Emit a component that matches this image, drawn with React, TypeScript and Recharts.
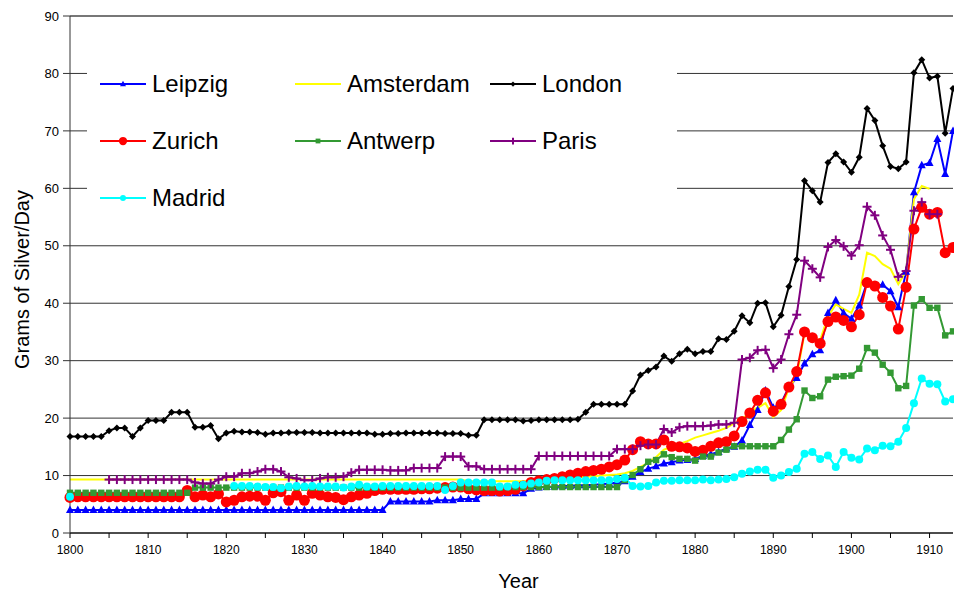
import { LineChart, Line, XAxis, YAxis, CartesianGrid, Legend, ReferenceLine } from 'recharts';

const FONT = '"Liberation Sans", Arial, sans-serif';

const years = Array.from({ length: 114 }, (_, i) => 1800 + i);

// grams of silver per day, one value per year 1800..1913
const leipzig = [
  4, 4, 4, 4, 4, 4, 4, 4, 4, 4,
  4, 4, 4, 4, 4, 4, 4, 4, 4, 4,
  4, 4, 4, 4, 4, 4, 4, 4, 4, 4,
  4, 4, 4, 4, 4, 4, 4, 4, 4, 4,
  4, 5.5, 5.5, 5.5, 5.5, 5.5, 5.5, 5.7, 5.7, 5.7,
  5.9, 5.9, 5.9, 6.9, 6.9, 6.9, 6.9, 6.9, 6.9, 7.7,
  7.9, 8.0, 8.1, 8.2, 8.2, 8.3, 8.3, 8.4, 8.5, 8.6,
  8.8, 9.0, 9.8, 10.6, 11.2, 11.6, 12.1, 12.3, 12.6, 12.7,
  12.9, 13.4, 13.7, 14.1, 14.7, 15.0, 16.1, 18.8, 21.4, 24.8,
  21.8, 22.6, 25.4, 27.0, 29.5, 31.1, 31.8, 38.3, 40.5, 38.3,
  37.3, 39.6, 43.6, 43.0, 43.2, 42.1, 39.3, 45.5, 59.3, 64.0,
  64.4, 68.6, 62.5, 70.0,
];

const amsterdam = [
  9.3, 9.3, 9.3, 9.3, 9.3, 9.3, 9.3, 9.3, 9.3, 9.3,
  9.3, 9.3, 9.3, 9.3, 9.3, 9.3, 9.3, 9.3, 9.3, 9.3,
  9.3, 9.3, 9.3, 9.3, 9.3, 9.3, 9.3, 9.3, 9.3, 9.3,
  9.3, 9.3, 9.3, 9.3, 9.3, 9.3, 9.3, 9.3, 9.3, 9.3,
  9.3, 9.3, 9.3, 9.3, 9.3, 9.3, 9.3, 9.3, 9.3, 9.3,
  9.3, 9.0, 9.0, 9.0, 9.0, 9.0, 9.0, 9.0, 9.0, 9.1,
  9.2, 9.3, 9.4, 9.5, 9.6, 9.7, 9.8, 9.9, 10.0, 10.1,
  10.2, 10.4, 10.8, 11.5, 12.2, 13.2, 14.5, 15.0, 15.5, 16.0,
  16.6, 17.0, 17.4, 17.8, 18.3, 19.1, 19.7, 21.2, 21.8, 22.6,
  20.2, 21.4, 25.2, 27.3, 34.8, 33.9, 33.6, 37.7, 39.8, 39.0,
  38.3, 41.5, 48.8, 48.2, 46.8, 46.0, 43.3, 45.6, 58.1, 60.4,
  59.9, null, null, null,
];

const london = [
  16.8, 16.8, 16.8, 16.8, 16.8, 17.8, 18.3, 18.3, 16.8, 18.3,
  19.6, 19.6, 19.6, 21.0, 21.0, 21.0, 18.4, 18.4, 18.7, 16.4,
  17.4, 17.7, 17.6, 17.6, 17.5, 17.2, 17.4, 17.4, 17.5, 17.5,
  17.5, 17.5, 17.4, 17.4, 17.4, 17.4, 17.4, 17.4, 17.4, 17.2,
  17.2, 17.3, 17.3, 17.4, 17.4, 17.4, 17.4, 17.4, 17.3, 17.3,
  17.3, 17.0, 17.0, 19.7, 19.7, 19.7, 19.7, 19.7, 19.5, 19.6,
  19.7, 19.7, 19.7, 19.7, 19.7, 19.8, 21.0, 22.4, 22.4, 22.4,
  22.4, 22.4, 24.7, 27.5, 28.3, 28.9, 30.8, 29.9, 31.2, 32.0,
  31.2, 31.6, 31.6, 33.8, 33.7, 35.1, 37.8, 36.6, 40.0, 40.1,
  35.9, 37.9, 42.9, 47.6, 61.3, 59.6, 57.6, 64.5, 66.0, 64.6,
  62.8, 65.4, 73.9, 71.8, 67.4, 63.8, 63.4, 64.6, 80.1, 82.4,
  79.2, 79.5, 69.6, 77.4,
];

const zurich = [
  6.2, 6.3, 6.3, 6.3, 6.3, 6.3, 6.3, 6.3, 6.3, 6.3,
  6.3, 6.3, 6.3, 6.3, 6.3, 7.4, 6.3, 6.6, 6.3, 6.8,
  5.4, 5.7, 6.3, 6.4, 6.4, 5.7, 7.0, 7.2, 5.7, 6.6,
  5.7, 6.9, 6.6, 6.3, 6.2, 5.8, 6.3, 6.6, 6.9, 7.4,
  7.6, 7.6, 7.6, 7.6, 7.6, 7.7, 7.7, 7.8, 7.9, 8.0,
  8.0, 7.7, 7.5, 7.4, 7.4, 7.3, 7.4, 7.6, 8.2, 8.8,
  9.1, 9.3, 9.5, 9.8, 10.1, 10.4, 10.7, 10.9, 11.1, 11.5,
  11.9, 12.7, 14.5, 15.9, 15.5, 15.5, 16.2, 15.1, 15.0, 14.8,
  14.2, 14.4, 15.1, 15.7, 15.9, 16.9, 19.4, 20.9, 23.1, 24.4,
  21.2, 22.4, 25.4, 28.1, 35.0, 34.0, 33.0, 36.8, 37.6, 37.0,
  35.9, 38.0, 43.6, 43.0, 41.0, 39.5, 35.5, 42.8, 52.9, 56.7,
  55.5, 55.8, 48.8, 49.7,
];

const antwerp = [
  7.0, 7.0, 7.0, 7.0, 7.0, 7.0, 7.0, 7.0, 7.0, 7.0,
  7.0, 7.0, 7.0, 7.0, 7.0, 7.0, 7.9, 7.9, 7.9, 7.9,
  7.9, 7.9, 7.9, 7.9, 7.9, 7.9, 7.9, 7.9, 7.9, 7.9,
  7.9, 7.9, 7.9, 7.9, 7.9, 7.9, 7.9, 7.9, 7.9, 7.9,
  7.9, 7.9, 7.9, 7.9, 7.9, 7.9, 7.9, 7.9, 7.9, 7.9,
  7.9, 7.9, 7.9, 7.9, 7.9, 7.9, 8.0, 8.0, 8.0, 8.0,
  8.0, 8.0, 8.0, 8.0, 8.0, 8.0, 8.0, 8.0, 8.0, 8.0,
  8.0, 9.2, 10.1, 11.1, 12.4, 12.7, 13.7, 13.2, 12.9, 12.9,
  12.6, 13.3, 13.3, 14.0, 14.5, 15.1, 15.1, 15.1, 15.1, 15.1,
  15.1, 16.2, 18.0, 19.8, 24.8, 23.5, 23.8, 26.7, 27.2, 27.3,
  27.4, 28.6, 32.2, 31.4, 29.3, 27.9, 25.2, 25.6, 39.6, 40.7,
  39.2, 39.2, 34.4, 35.1,
];

const paris = [
  null, null, null, null, null, 9.3, 9.3, 9.3, 9.3, 9.3,
  9.3, 9.3, 9.3, 9.3, 9.3, 9.3, 8.8, 8.6, 8.6, 9.3,
  9.8, 9.8, 10.4, 10.4, 10.7, 11.1, 11.1, 10.7, 9.7, 9.5,
  9.2, 9.2, 9.5, 9.7, 9.7, 9.8, 10.5, 11.0, 11.0, 11.0,
  11.0, 10.9, 10.9, 10.9, 11.3, 11.3, 11.3, 11.3, 13.3, 13.3,
  13.3, 11.6, 11.6, 11.1, 11.1, 11.1, 11.1, 11.1, 11.1, 11.1,
  13.4, 13.4, 13.4, 13.4, 13.4, 13.4, 13.4, 13.4, 13.4, 13.4,
  14.6, 14.6, 14.6, 15.2, 15.4, 15.4, 18.1, 17.5, 18.4, 18.6,
  18.6, 18.6, 18.7, 18.9, 18.9, 19.2, 30.2, 30.5, 31.8, 31.9,
  28.7, 30.2, 34.6, 38.0, 47.4, 46.0, 44.5, 49.8, 51.0, 49.9,
  48.3, 50.1, 56.8, 55.3, 51.8, 49.3, 44.6, 45.6, 56.1, 57.6,
  55.5, 55.5, null, null,
];

const madrid = [
  6.3, null, null, null, null, null, null, null, null, null,
  null, null, null, null, null, null, null, null, null, null,
  null, 8.2, 8.2, 8.2, 8.1, 8.0, 8.0, 7.8, 8.1, 8.2,
  8.1, 8.2, 8.1, 8.1, 8.1, 7.9, 8.1, 8.4, 8.1, 8.1,
  8.2, 8.2, 8.2, 8.2, 8.2, 8.2, 8.2, 8.2, 7.5, 8.2,
  8.8, 8.8, 8.8, 8.8, 8.8, 8.1, 8.1, 8.4, 8.4, 8.6,
  8.8, 9.1, 9.2, 9.2, 9.2, 9.2, 9.2, 9.2, 9.2, 9.2,
  9.4, 9.6, 8.2, 8.1, 8.2, 8.8, 9.1, 9.1, 9.2, 9.2,
  9.2, 9.3, 9.2, 9.3, 9.4, 9.7, 10.3, 10.7, 11.0, 11.0,
  9.6, 10.0, 10.6, 11.2, 13.8, 14.1, 12.9, 13.5, 11.5, 14.1,
  13.1, 12.8, 14.7, 14.4, 15.2, 15.1, 15.9, 18.3, 22.6, 26.9,
  26.0, 25.9, 22.9, 23.3,
];

const xTicks = [
  1800, 1805, 1810, 1815, 1820, 1825, 1830, 1835, 1840, 1845, 1850, 1855,
  1860, 1865, 1870, 1875, 1880, 1885, 1890, 1895, 1900, 1905, 1910,
];
const yTicks = [0, 10, 20, 30, 40, 50, 60, 70, 80, 90];

// legend order: row by row, three per row
const SERIES = [
  { name: 'Leipzig', values: leipzig, color: '#0000ff', marker: 'triangle' },
  { name: 'Amsterdam', values: amsterdam, color: '#ffff00', marker: 'none' },
  { name: 'London', values: london, color: '#000000', marker: 'diamond' },
  { name: 'Zurich', values: zurich, color: '#ff0000', marker: 'bigCircle' },
  { name: 'Antwerp', values: antwerp, color: '#339933', marker: 'square' },
  { name: 'Paris', values: paris, color: '#800080', marker: 'plus' },
  { name: 'Madrid', values: madrid, color: '#00ffff', marker: 'circle' },
];

const data = years.map((year, i) => {
  const row: Record<string, number | null> = { year };
  SERIES.forEach((s) => {
    row[s.name] = s.values[i];
  });
  return row;
});

function marker(kind: string, cx: number, cy: number, color: string, k: number, key?: string) {
  switch (kind) {
    case 'triangle':
      return (
        <polygon
          key={key}
          points={`${cx},${cy - 4.5 * k} ${cx + 4 * k},${cy + 3 * k} ${cx - 4 * k},${cy + 3 * k}`}
          fill={color}
        />
      );
    case 'diamond':
      return (
        <polygon
          key={key}
          points={`${cx},${cy - 3.5 * k} ${cx + 3.5 * k},${cy} ${cx},${cy + 3.5 * k} ${cx - 3.5 * k},${cy}`}
          fill={color}
        />
      );
    case 'bigCircle':
      return <circle key={key} cx={cx} cy={cy} r={5.5 * k} fill={color} />;
    case 'circle':
      return <circle key={key} cx={cx} cy={cy} r={4 * k} fill={color} />;
    case 'square':
      return <rect key={key} x={cx - 3.2 * k} y={cy - 3.2 * k} width={6.4 * k} height={6.4 * k} fill={color} />;
    case 'plus':
      return (
        <g key={key} stroke={color} strokeWidth={2}>
          <line x1={cx - 4.5 * k} y1={cy} x2={cx + 4.5 * k} y2={cy} />
          <line x1={cx} y1={cy - 4.5 * k} x2={cx} y2={cy + 4.5 * k} />
        </g>
      );
    default:
      return <g key={key} />;
  }
}

function renderLegend() {
  return (
    <div style={{ position: 'relative', width: 590, height: 178, background: '#fff' }}>
      {SERIES.map((s, i) => {
        const row = Math.floor(i / 3);
        const col = i % 3;
        return (
          <div
            key={s.name}
            style={{
              position: 'absolute',
              left: 13 + col * 195,
              top: 22 + row * 57,
              height: 28,
              display: 'flex',
              alignItems: 'center',
              whiteSpace: 'nowrap',
            }}
          >
            <svg width={46} height={28} style={{ display: 'block' }}>
              <line x1={0} y1={14} x2={46} y2={14} stroke={s.color} strokeWidth={2} />
              {marker(s.marker, 23, 14, s.color, 0.75)}
            </svg>
            <span style={{ marginLeft: 6, fontSize: 24, lineHeight: '28px', fontFamily: FONT, color: '#000' }}>
              {s.name}
            </span>
          </div>
        );
      })}
    </div>
  );
}

export default function App() {
  return (
    <div style={{ position: 'absolute', left: 0, top: 0, width: 954, height: 593, background: '#fff' }}>
      <LineChart width={954} height={593} data={data} margin={{ top: 16, right: 1, bottom: 0, left: 0 }}>
        <CartesianGrid horizontal vertical={false} stroke="#333" strokeWidth={1} />
        {/* top edge of the plot (the 90 line) */}
        <ReferenceLine y={90} stroke="#777" strokeWidth={2} ifOverflow="visible" />
        <XAxis
          dataKey="year"
          type="number"
          domain={[1800, 1913]}
          ticks={xTicks}
          interval={0}
          height={60}
          tickSize={5}
          tickMargin={7}
          tickFormatter={(v: number) => (v % 10 === 0 ? String(v) : '')}
          tick={{ fontSize: 12, fill: '#000', fontFamily: FONT }}
          axisLine={{ stroke: '#000' }}
          tickLine={{ stroke: '#000' }}
          label={{
            content: (p: any) => {
              const vb = p.viewBox || { x: 70, width: 883, y: 533 };
              const cx = vb.x + vb.width / 2 + 7;
              return (
                <text x={cx} y={588} textAnchor="middle" fontSize={20} fontFamily={FONT} fill="#000">
                  Year
                </text>
              );
            },
          }}
        />
        <YAxis
          type="number"
          domain={[0, 90]}
          ticks={yTicks}
          interval={0}
          width={70}
          tickSize={7}
          tickMargin={4}
          tick={{ fontSize: 13, fill: '#000', fontFamily: FONT }}
          axisLine={{ stroke: '#333' }}
          tickLine={{ stroke: '#333' }}
          label={{
            content: (p: any) => {
              const vb = p.viewBox || { y: 16, height: 517 };
              const cx = 22;
              const cy = vb.y + vb.height / 2 + 5;
              return (
                <text
                  x={cx}
                  y={cy}
                  transform={`rotate(-90, ${cx}, ${cy})`}
                  textAnchor="middle"
                  dominantBaseline="central"
                  fontSize={20}
                  fontFamily={FONT}
                  fill="#000"
                >
                  Grams of Silver/Day
                </text>
              );
            },
          }}
        />
        <Legend
          layout="horizontal"
          verticalAlign="middle"
          align="center"
          content={renderLegend}
          wrapperStyle={{ position: 'absolute', left: 87, top: 48, width: 590, height: 178 }}
        />
        {SERIES.map((s) => (
          <Line
            key={s.name}
            dataKey={s.name}
            type="linear"
            stroke={s.color}
            strokeWidth={2}
            connectNulls={false}
            isAnimationActive={false}
            activeDot={false}
            dot={
              s.marker === 'none'
                ? false
                : (p: any) => {
                    const key = `${s.name}-${p.index}`;
                    if (p.cx == null || p.cy == null || p.value == null) return <g key={key} />;
                    return marker(s.marker, p.cx, p.cy, s.color, 1, key);
                  }
            }
          />
        ))}
      </LineChart>
    </div>
  );
}
